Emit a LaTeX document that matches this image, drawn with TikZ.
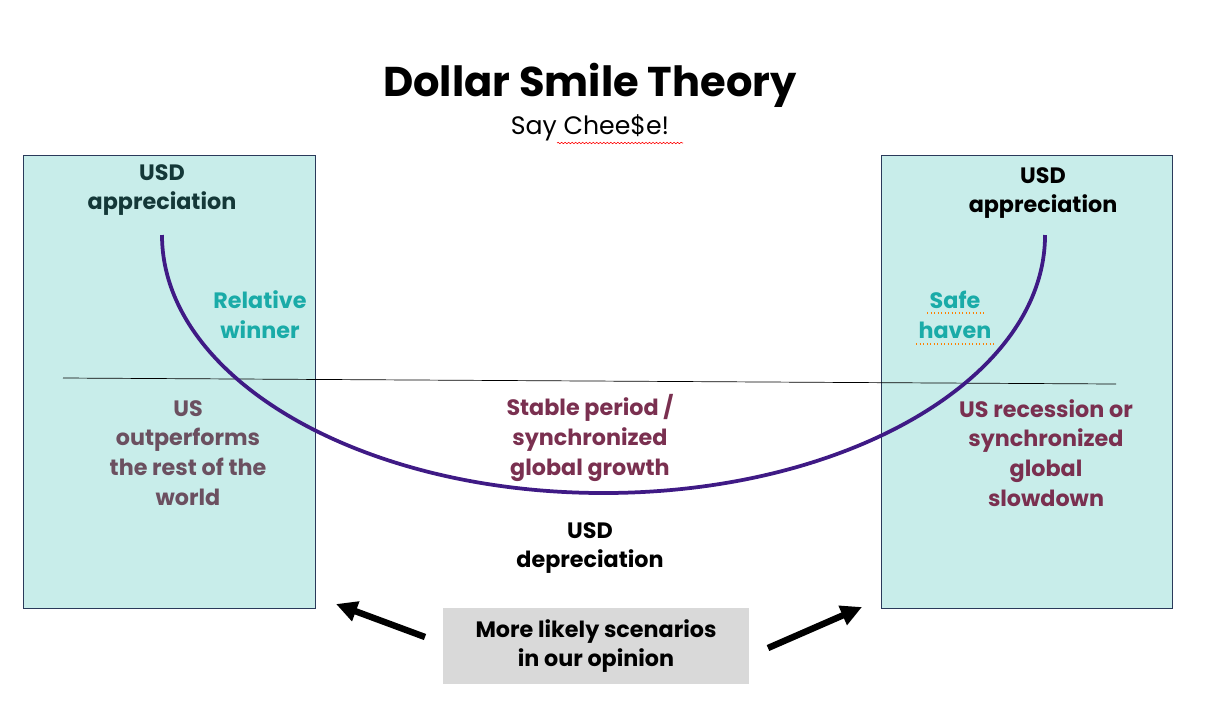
\documentclass[tikz,border=0pt]{standalone}
\usepackage{fontspec}
\setmainfont{Poppins}
\usetikzlibrary{decorations.pathmorphing,arrows.meta}
\definecolor{boxfill}{HTML}{C8EDEA}
\definecolor{boxline}{HTML}{2A3A5A}
\definecolor{smile}{HTML}{3F1A85}
\definecolor{tealtxt}{HTML}{1AABA8}
\definecolor{maroon}{HTML}{7A3050}
\definecolor{greytxt}{HTML}{6B5060}
\definecolor{darkteal}{HTML}{143838}
\begin{document}
\begin{tikzpicture}[x=0.03cm,y=-0.03cm,thick]
        %
        % `zone' is used for the two side boxes.
        % `lbl' is used for all bold text blocks.
        \tikzstyle{zone} = [draw=boxline,fill=boxfill,line width=0.8pt]
        \tikzstyle{lbl} = [align=center,font=\fontsize{19}{25.5}\selectfont\bfseries]
        \tikzstyle{bigarrow} = [-{Triangle[length=18pt,width=17pt]},line width=5.5pt]
        %
        \useasboundingbox (0,0) rectangle (1206,714);
        % Title
        \node (title) at (590,85) {\fontsize{35.5}{40}\selectfont\bfseries Dollar Smile Theory};
        \node (subtitle) at (590,128) {\fontsize{21.5}{25}\selectfont Say Chee\$e!};
        \draw[red,line width=0.5pt,decorate,decoration={snake,amplitude=0.6pt,segment length=3pt}]
            (557,143) -- (683,143);
        %
        % Side boxes
        \draw[zone] (23,155) rectangle (315,608);
        \draw[zone] (881,155) rectangle (1172,608);
        %
        % Axis line
        \draw[line width=0.6pt] (63,378) -- (1116,384);
        %
        % Smile
        \coordinate (smileL) at (162,235);
        \draw[smile,line width=3.2pt] (smileL) arc[start angle=180,end angle=360,
            x radius=13.245cm,y radius=7.74cm];
        %
        % Labels
        \node[lbl,text=darkteal] (apprL) at (162,190) {USD\\appreciation};
        \node[lbl] (apprR) at (1043,193) {USD\\appreciation};
        \node[lbl,text=tealtxt] (winner) at (260,315) {Relative\\winner};
        \node[lbl,text=tealtxt] (haven) at (955,315) {Safe\\haven};
        \draw[orange,dotted,line width=1pt] (927,313) -- (985,313);
        \draw[orange,dotted,line width=1pt] (916,344) -- (994,344);
        \node[lbl,text=greytxt] (usout) at (188,453) {US\\outperforms\\the rest of the\\world};
        \node[lbl,text=maroon] (stable) at (590,438) {Stable period /\\synchronized\\global growth};
        \node[lbl,text=maroon] (recess) at (1046,453) {US recession or\\synchronized\\global\\slowdown};
        \node[lbl] (depr) at (590,548) {USD\\depreciation};
        %
        % Opinion box and arrows
        \node[lbl,fill=black!15,minimum width=9.2cm,minimum height=2.3cm] (opinion) at (596,646)
            {More likely scenarios\\in our opinion};
        \coordinate (tipL) at (336,604);
        \coordinate (tipR) at (862,607);
        \draw[bigarrow] (425,637) -- (tipL);
        \draw[bigarrow] (768,648) -- (tipR);
        %
\end{tikzpicture}
\end{document}
